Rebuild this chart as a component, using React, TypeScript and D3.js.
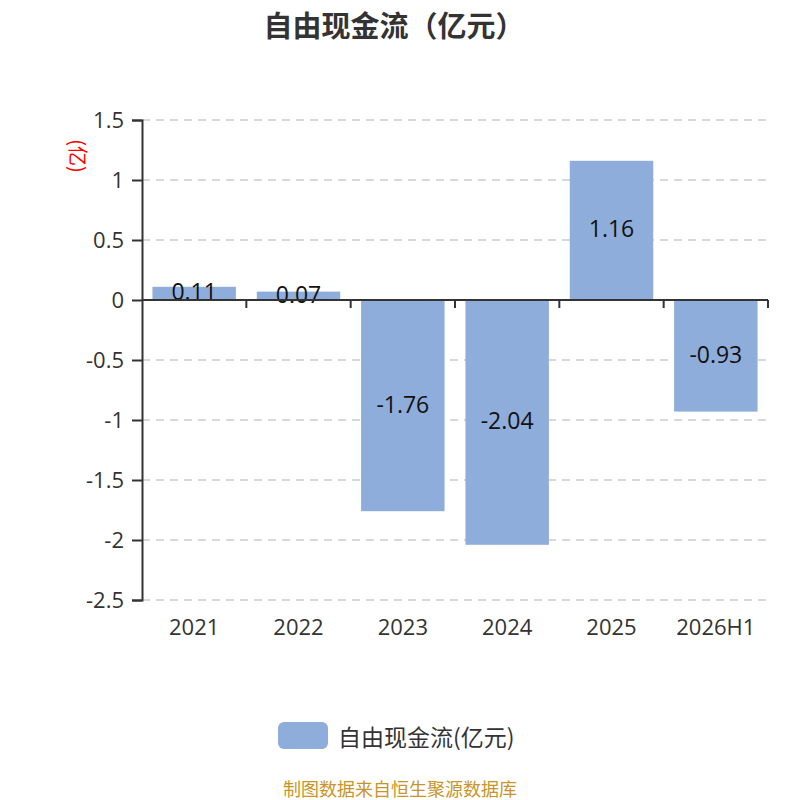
import { useEffect, useRef } from 'react';
import * as d3 from 'd3';

const categories = ['2021', '2022', '2023', '2024', '2025', '2026H1'];
const values = [0.11, 0.07, -1.76, -2.04, 1.16, -0.93];
const yTicks = [1.5, 1, 0.5, 0, -0.5, -1, -1.5, -2, -2.5];
const title = '自由现金流（亿元）';
const legendLabel = '自由现金流(亿元)';
const unitLabel = '(亿)';
const sourceText = '制图数据来自恒生聚源数据库';

const FONT = '"Open Sans", "Noto Sans CJK SC", sans-serif';
const CJK = '"Noto Sans CJK SC", sans-serif';

export default function App() {
  const svgRef = useRef<SVGSVGElement>(null);

  useEffect(() => {
    if (!svgRef.current) return;
    const svg = d3.select(svgRef.current);
    svg.selectAll('*').remove();

    const width = 800;
    const height = 800;
    const margin = { top: 120, right: 32, bottom: 200, left: 142 };
    const innerWidth = width - margin.left - margin.right;

    const xScale = d3.scaleBand<string>()
      .domain(categories)
      .range([margin.left, margin.left + innerWidth])
      .paddingInner(0.2)
      .paddingOuter(0.1);

    const yScale = d3.scaleLinear()
      .domain([-2.5, 1.5])
      .range([height - margin.bottom, margin.top]);

    // Title
    svg.append('text')
      .attr('x', 394)
      .attr('y', 24)
      .attr('text-anchor', 'middle')
      .attr('dominant-baseline', 'central')
      .attr('font-family', CJK)
      .attr('font-size', 29)
      .attr('font-weight', 'bold')
      .attr('fill', '#333')
      .text(title);

    // Grid lines
    svg.append('g')
      .selectAll('line')
      .data(yTicks)
      .enter()
      .append('line')
      .attr('x1', margin.left)
      .attr('x2', margin.left + innerWidth)
      .attr('y1', d => yScale(d))
      .attr('y2', d => yScale(d))
      .attr('stroke', '#ccc')
      .attr('stroke-width', 1.5)
      .attr('stroke-dasharray', '8,6');

    // Bars
    svg.append('g')
      .selectAll('rect')
      .data(values)
      .enter()
      .append('rect')
      .attr('x', (_, i) => xScale(categories[i]) as number)
      .attr('y', d => yScale(Math.max(0, d)))
      .attr('width', xScale.bandwidth())
      .attr('height', d => Math.abs(yScale(d) - yScale(0)))
      .attr('fill', '#8eaddb');

    // Bar labels
    svg.append('g')
      .selectAll('text')
      .data(values)
      .enter()
      .append('text')
      .attr('x', (_, i) => (xScale(categories[i]) as number) + xScale.bandwidth() / 2)
      .attr('y', d => (yScale(d) + yScale(0)) / 2 - 2)
      .attr('text-anchor', 'middle')
      .attr('dominant-baseline', 'central')
      .attr('font-family', FONT)
      .attr('font-size', 23)
      .attr('fill', '#111')
      .text(d => d.toFixed(2));

    // Y axis
    const yAxis = d3.axisLeft(yScale)
      .tickValues(yTicks)
      .tickSize(10)
      .tickPadding(8)
      .tickFormat(d => String(d));
    const yg = svg.append('g')
      .attr('transform', `translate(${margin.left},0)`)
      .call(yAxis);
    yg.select('.domain').attr('stroke', '#333').attr('stroke-width', 2);
    yg.selectAll('.tick line').attr('stroke', '#333').attr('stroke-width', 2);
    yg.selectAll('.tick text')
      .attr('font-family', FONT)
      .attr('font-size', 22)
      .attr('fill', '#333');

    // X axis at zero with ticks at band boundaries
    const zeroY = yScale(0);
    svg.append('line')
      .attr('x1', margin.left)
      .attr('x2', margin.left + innerWidth)
      .attr('y1', zeroY)
      .attr('y2', zeroY)
      .attr('stroke', '#333')
      .attr('stroke-width', 2);
    const step = xScale.step();
    const boundaries = categories.map(c => (xScale(c) as number) + xScale.bandwidth() + step * xScale.paddingInner() / 2);
    svg.append('g')
      .selectAll('line')
      .data(boundaries)
      .enter()
      .append('line')
      .attr('x1', d => d)
      .attr('x2', d => d)
      .attr('y1', zeroY)
      .attr('y2', zeroY + 8)
      .attr('stroke', '#333')
      .attr('stroke-width', 2);

    // Category labels
    svg.append('g')
      .selectAll('text')
      .data(categories)
      .enter()
      .append('text')
      .attr('x', d => (xScale(d) as number) + xScale.bandwidth() / 2)
      .attr('y', height - margin.bottom + 26)
      .attr('text-anchor', 'middle')
      .attr('dominant-baseline', 'central')
      .attr('font-family', FONT)
      .attr('font-size', 22)
      .attr('fill', '#333')
      .text(d => d);

    // Unit label
    svg.append('text')
      .attr('transform', 'translate(78,156) rotate(90)')
      .attr('text-anchor', 'middle')
      .attr('dominant-baseline', 'central')
      .attr('font-family', CJK)
      .attr('font-size', 20)
      .attr('fill', 'red')
      .text(unitLabel);

    // Legend
    svg.append('rect')
      .attr('x', 278)
      .attr('y', 722)
      .attr('width', 50)
      .attr('height', 27)
      .attr('rx', 6)
      .attr('fill', '#8eaddb');
    svg.append('text')
      .attr('x', 338)
      .attr('y', 736)
      .attr('dominant-baseline', 'central')
      .attr('font-family', CJK)
      .attr('font-size', 23)
      .attr('fill', '#333')
      .text(legendLabel);

    // Source
    svg.append('text')
      .attr('x', 400)
      .attr('y', 788)
      .attr('text-anchor', 'middle')
      .attr('dominant-baseline', 'central')
      .attr('font-family', CJK)
      .attr('font-size', 18)
      .attr('fill', '#c8952a')
      .text(sourceText);
  }, []);

  return (
    <svg
      ref={svgRef}
      width={800}
      height={800}
      style={{ position: 'absolute', left: 0, top: 0, background: '#fff' }}
    />
  );
}
